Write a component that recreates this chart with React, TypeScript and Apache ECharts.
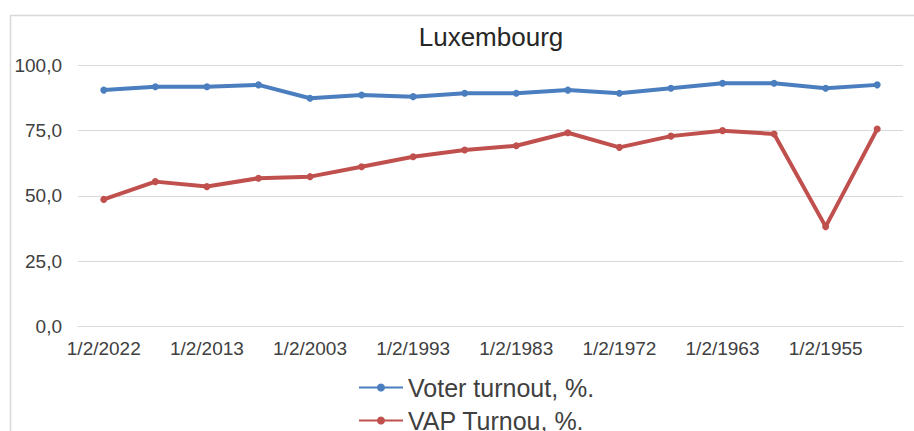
import React, { useEffect, useRef } from "react";
import * as echarts from "echarts";

const categories = [
  "1/2/2022", "1/2/2017", "1/2/2013", "1/2/2008", "1/2/2003", "1/2/1998",
  "1/2/1993", "1/2/1988", "1/2/1983", "1/2/1978", "1/2/1972", "1/2/1967",
  "1/2/1963", "1/2/1958", "1/2/1955", "1/2/1950",
];
const voterTurnout = [
  90.4, 91.7, 91.7, 92.4, 87.3, 88.5, 87.9, 89.2, 89.2, 90.4, 89.2, 91.1,
  93.0, 93.0, 91.1, 92.4,
];
const vapTurnout = [
  48.6, 55.4, 53.5, 56.7, 57.3, 61.1, 64.9, 67.5, 69.1, 74.1, 68.5, 72.8,
  74.9, 73.6, 38.2, 75.5,
];
const seriesNames = ["Voter turnout, %.", "VAP Turnou, %."];
const titleText = "Luxembourg";

const FONT = "'Liberation Sans', Arial, sans-serif";
const TEXT = "#404040";
const BLUE = "#4a7ebf";
const RED = "#c0504d";

export default function App() {
  const ref = useRef<HTMLDivElement>(null);
  useEffect(() => {
    if (!ref.current) return;
    const chart = echarts.init(ref.current, undefined, { renderer: "svg" });
    const legendBase = {
      orient: "horizontal",
      left: 353,
      itemWidth: 44,
      itemHeight: 10,
      textStyle: { fontSize: 25, color: TEXT, fontFamily: FONT },
    };
    chart.setOption({
      animation: false,
      backgroundColor: "#ffffff",
      textStyle: { fontFamily: FONT },
      graphic: [
        {
          type: "rect",
          silent: true,
          shape: { x: 10.5, y: 15.5, width: 920, height: 440 },
          style: { fill: "none", stroke: "#d9d9d9", lineWidth: 1.5 },
          z: -1,
        },
      ],
      title: {
        text: titleText,
        left: 486,
        top: 19,
        textAlign: "center",
        textStyle: { fontSize: 26, fontWeight: "normal", color: "#262626", fontFamily: FONT },
      },
      legend: [
        { ...legendBase, top: 370, data: [seriesNames[0]] },
        { ...legendBase, top: 403, data: [seriesNames[1]] },
      ],
      grid: { left: 78, right: 11, top: 65, bottom: 104.5, containLabel: false },
      xAxis: {
        type: "category",
        data: categories,
        boundaryGap: true,
        axisLine: { show: true, lineStyle: { color: "#d9d9d9", width: 1 } },
        axisTick: { show: false },
        axisLabel: {
          interval: 1,
          margin: 12,
          fontSize: 19,
          color: TEXT,
          fontFamily: FONT,
        },
      },
      yAxis: {
        type: "value",
        min: 0,
        max: 100,
        interval: 25,
        axisLine: { show: false },
        axisTick: { show: false },
        splitLine: { lineStyle: { color: "#d9d9d9", width: 1 } },
        axisLabel: {
          margin: 16,
          fontSize: 19,
          color: TEXT,
          fontFamily: FONT,
          formatter: (v: number) => v.toFixed(1).replace(".", ","),
        },
      },
      series: [
        {
          name: seriesNames[0],
          type: "line",
          data: voterTurnout,
          symbol: "circle",
          symbolSize: 7,
          lineStyle: { color: BLUE, width: 4 },
          itemStyle: { color: BLUE },
        },
        {
          name: seriesNames[1],
          type: "line",
          data: vapTurnout,
          symbol: "circle",
          symbolSize: 7,
          lineStyle: { color: RED, width: 4 },
          itemStyle: { color: RED },
        },
      ],
    });
    return () => chart.dispose();
  }, []);
  return (
    <div
      ref={ref}
      style={{ position: "fixed", left: 0, top: 0, width: 914, height: 431 }}
    />
  );
}
